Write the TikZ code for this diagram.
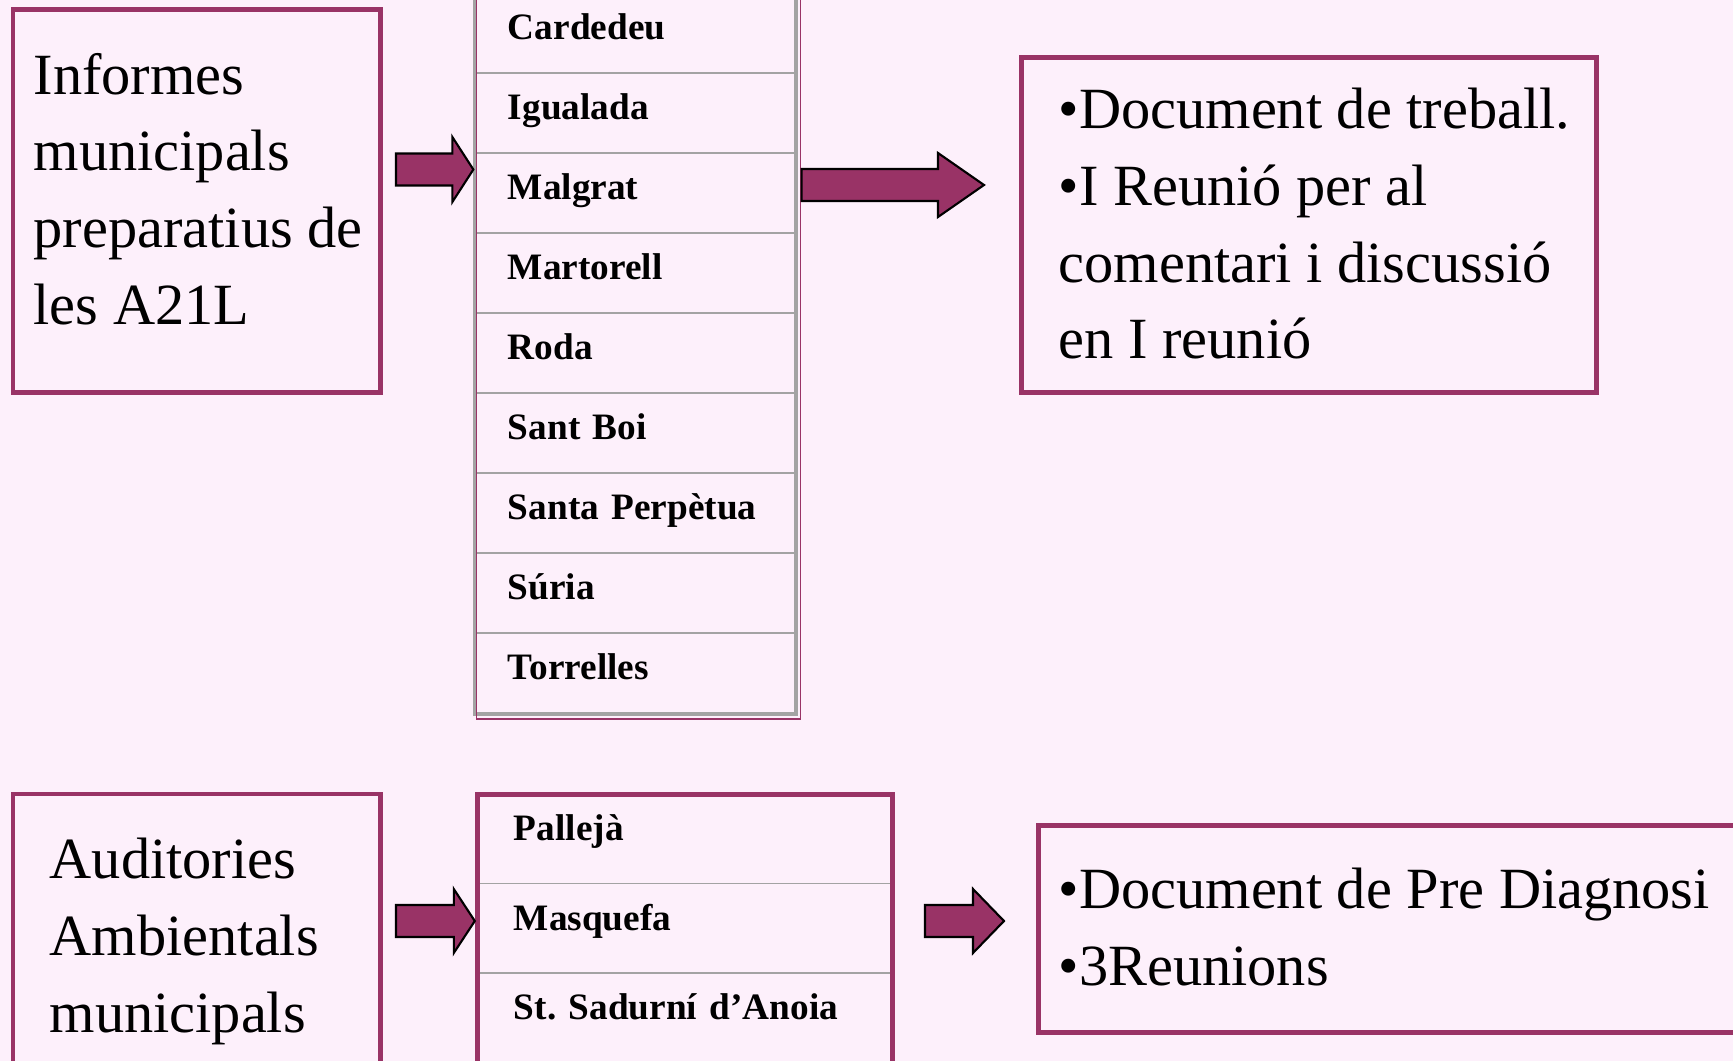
\documentclass[tikz,border=0pt]{standalone}
\usepackage{fontspec}
\setmainfont{Liberation Serif}
\usepackage{tikz}
\usetikzlibrary{calc, fit}

\definecolor{plum}{HTML}{993366}
\definecolor{pinkbg}{RGB}{253,240,251}
\definecolor{rowgray}{HTML}{A3A3A3}

\newcommand{\bigtxt}{\fontsize{16.6pt}{21.85pt}\selectfont}
\newcommand{\citytxt}{\fontsize{10.6pt}{12.7pt}\selectfont\bfseries}

% tail, tip, head length, head half, shaft half
\newcommand{\blockarrow}[5]{%
  \draw[blockarr] ($(#1)+(0,-#5)$) -- ($(#2)+(-#3,-#5)$) -- ($(#2)+(-#3,-#4)$)
    -- (#2) -- ($(#2)+(-#3,#4)$) -- ($(#2)+(-#3,#5)$) -- ($(#1)+(0,#5)$) -- cycle;}

\tikzset{
  frame/.style={draw=plum, line width=1.42pt, inner sep=0pt},
  bigtext/.style={font=\bigtxt, align=left, inner sep=0pt, anchor=north west,
    execute at begin node=\strut},
  cityrow/.style={draw=rowgray, line width=0.45pt, font=\citytxt,
    minimum width=3.19cm, minimum height=0.8cm, text width=2.55cm,
    inner xsep=0.32cm, align=left, text height=7.6pt, text depth=3.9pt},
  placerow/.style={cityrow, minimum width=4.152cm, minimum height=0.895cm,
    text width=3.418cm, inner xsep=0.367cm, text height=7.1pt, text depth=5.9pt},
  blockarr/.style={fill=plum, draw=black, line width=0.6pt, line join=miter},
}

\begin{document}
\begin{tikzpicture}[x=0.01cm, y=-0.01cm]
  \useasboundingbox (0,0) rectangle (1733,1061);
  \clip (0,0) rectangle (1733,1061);
  \fill[pinkbg] (0,0) rectangle (1733,1061);

  % left boxes
  \node[frame, fit={(13,9.5) (380.5,392.5)}] (infbox) {};
  \node[bigtext] (inftxt) at (33,52.25) {Informes\\municipals\\preparatius de\\les A21L};

  \node[frame, fit={(13,794) (380.5,1100)}] (audbox) {};
  \node[bigtext] (audtxt) at (49,837.25) {Auditories\\Ambientals\\municipals};

  % town lists
  \foreach \name [count=\i] in {Cardedeu, Igualada, Malgrat, Martorell, Roda,
      Sant Boi, Santa Perpètua, Súria, Torrelles}
    \node[cityrow] (c\i) at (635.5,{33.3+80*(\i-1)}) {\name};
  \node[draw=rowgray, line width=1pt, inner sep=0pt, fit=(c1)(c9)] (cities) {};
  \draw[plum, line width=0.4pt] ($(cities.north west)+(3,0)$) rectangle ($(cities.south east)+(3,3)$);

  \foreach \name [count=\i] in {Pallejà, Masquefa, St.\ Sadurní d’Anoia}
    \node[placerow] (p\i) at (684.9,{838.75+89.5*(\i-1)}) {\name};
  \node[frame, fit={(477.3,794.5) (892.5,1100)}] (places) {};

  % result boxes
  \node[frame, fit={(1021.5,57.5) (1596.5,392.5)}] (doc1box) {};
  \node[bigtext] (doc1txt) at (1058,87.25)
    {•Document de treball.\\•I Reunió per al\\comentari i discussió\\en I reunió};

  \node[frame, fit={(1038.5,825.5) (1760,1032.5)}] (doc2box) {};
  \node[bigtext] (doc2txt) at (1058,867.25) {•Document de Pre Diagnosi\\•3Reunions};

  % arrows
  \coordinate (a1s) at (396,169.5);
  \blockarrow{a1s}{cities.west |- a1s}{21}{32.5}{16}
  \coordinate (a2e) at (984,185);
  \coordinate (a2s) at ($(cities.east |- a2e)+(4,0)$);
  \blockarrow{a2s}{a2e}{46}{32}{16}
  \coordinate (a3s) at (396,921);
  \blockarrow{a3s}{places.west |- a3s}{21}{32}{16}
  \coordinate (a4s) at (925,921);
  \coordinate (a4e) at (1004,921);
  \blockarrow{a4s}{a4e}{31}{32}{16}
\end{tikzpicture}
\end{document}
